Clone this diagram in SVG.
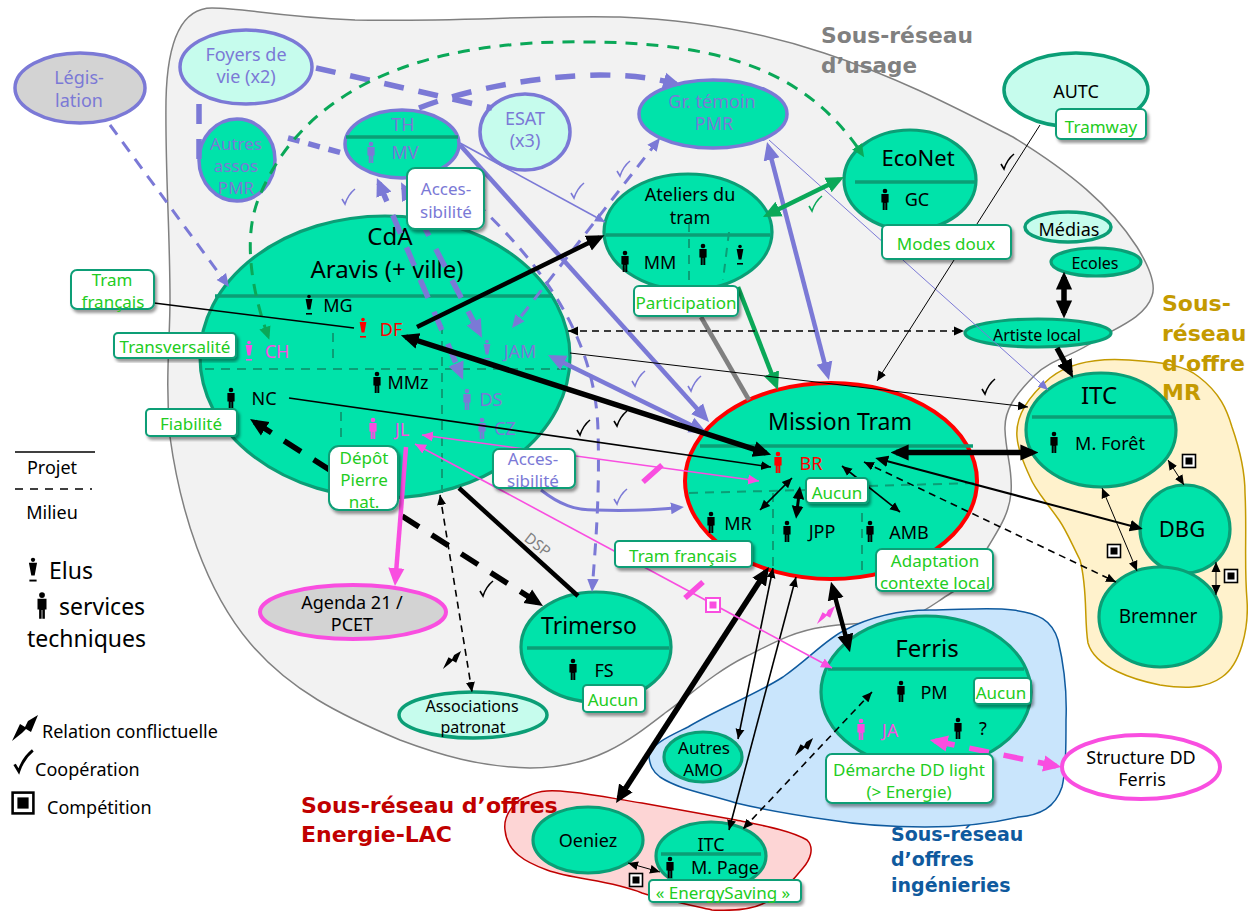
<svg xmlns="http://www.w3.org/2000/svg" width="1248" height="911" viewBox="0 0 1248 911">
<style>
text{font-family:"Noto Sans","Open Sans","DejaVu Sans",sans-serif;text-anchor:middle;dominant-baseline:central;fill:#000}
.l{text-anchor:start}
.f15{font-size:15px}.f16{font-size:16px}.f17{font-size:17px}.f18{font-size:18px}.f19{font-size:19px}.f22{font-size:22px}.f23{font-size:23px}.f24{font-size:24px}
.pu{fill:#7b79d6}.re{fill:#ff0000}.ma{fill:#f94ee0}.gt{fill:#22cc22}
.ti{font-family:"DejaVu Sans",sans-serif;font-weight:bold;font-size:22px;text-anchor:start}
.n{fill:#00e3aa;stroke:#0b9e76;stroke-width:3.2}
.nl{fill:#c6fced;stroke:#0b9e76;stroke-width:3.5}
.np{stroke:#7b79d6;stroke-width:3.5}
.div{stroke:#0b9e76;stroke-width:3.5;fill:none}
.sep{stroke:#0b9e76;stroke-width:2;stroke-dasharray:9 7;fill:none}
.box{fill:#fff;stroke:#0b9e76;stroke-width:2;filter:url(#sh)}
.c{fill:none}
.k{stroke:#000}.p{stroke:#7b79d6}.g{stroke:#0aa858}.m{stroke:#f94ee0}.y{stroke:#808080}
.w1{stroke-width:1}.w15{stroke-width:1.6}.w3{stroke-width:3}.w4{stroke-width:4.5}.w5{stroke-width:5.5}
.d1{stroke-dasharray:7 5}.d2{stroke-dasharray:12 9}.d3{stroke-dasharray:20 15}
.ck{fill:none;stroke-width:1.6}
</style>
<defs>
<filter id="sh" x="-10%" y="-10%" width="125%" height="130%"><feDropShadow dx="2" dy="3" stdDeviation="1.6" flood-color="#000" flood-opacity=".4"/></filter>
<marker id="ks" viewBox="0 0 10 10" refX="10" refY="5" markerWidth="10" markerHeight="10" markerUnits="userSpaceOnUse" orient="auto-start-reverse"><path d="M0,.5L10,5L0,9.5z" fill="#000"/></marker>
<marker id="km" viewBox="0 0 10 10" refX="7" refY="5" markerWidth="13" markerHeight="13" markerUnits="userSpaceOnUse" orient="auto-start-reverse"><path d="M0,.5L10,5L0,9.5z" fill="#000"/></marker>
<marker id="kl" viewBox="0 0 10 10" refX="7" refY="5" markerWidth="18" markerHeight="18" markerUnits="userSpaceOnUse" orient="auto-start-reverse"><path d="M0,.5L10,5L0,9.5z" fill="#000"/></marker>
<marker id="ps" viewBox="0 0 10 10" refX="10" refY="5" markerWidth="10" markerHeight="10" markerUnits="userSpaceOnUse" orient="auto-start-reverse"><path d="M0,.5L10,5L0,9.5z" fill="#7b79d6"/></marker>
<marker id="pm" viewBox="0 0 10 10" refX="7" refY="5" markerWidth="13" markerHeight="13" markerUnits="userSpaceOnUse" orient="auto-start-reverse"><path d="M0,.5L10,5L0,9.5z" fill="#7b79d6"/></marker>
<marker id="pl" viewBox="0 0 10 10" refX="7" refY="5" markerWidth="18" markerHeight="18" markerUnits="userSpaceOnUse" orient="auto-start-reverse"><path d="M0,.5L10,5L0,9.5z" fill="#7b79d6"/></marker>
<marker id="gm" viewBox="0 0 10 10" refX="7" refY="5" markerWidth="13" markerHeight="13" markerUnits="userSpaceOnUse" orient="auto-start-reverse"><path d="M0,.5L10,5L0,9.5z" fill="#0aa858"/></marker>
<marker id="gl" viewBox="0 0 10 10" refX="7" refY="5" markerWidth="18" markerHeight="18" markerUnits="userSpaceOnUse" orient="auto-start-reverse"><path d="M0,.5L10,5L0,9.5z" fill="#0aa858"/></marker>
<marker id="ms" viewBox="0 0 10 10" refX="10" refY="5" markerWidth="11" markerHeight="11" markerUnits="userSpaceOnUse" orient="auto-start-reverse"><path d="M0,.5L10,5L0,9.5z" fill="#f94ee0"/></marker>
<marker id="ml" viewBox="0 0 10 10" refX="7" refY="5" markerWidth="18" markerHeight="18" markerUnits="userSpaceOnUse" orient="auto-start-reverse"><path d="M0,.5L10,5L0,9.5z" fill="#f94ee0"/></marker>
<g id="man"><circle cx="0" cy="-8" r="2.3"/><path d="M-3.6,-5h7.2v8.5h-1.3v7.5h-2v-7h-.6v7h-2v-7.5h-1.3z"/></g>
<g id="elu"><circle cx="0" cy="-8.5" r="1.8"/><path d="M-3.4,-6h6.8l-2,10.5h-2.8z"/><rect x="-3" y="8" width="6" height="1.6"/></g>
<path id="ckm" d="M-6,1L-3,6C-1,0 2,-5 7,-9C2,-5 -1,0 -3,6"/>
<path id="bolt" d="M-13,13L-5,-4L0,-1L3,-7L13,-13L6,4L1,1L-3,5z"/>
<g id="cp"><rect x="-6.5" y="-6.5" width="13" height="13" fill="#fff" stroke="#000" stroke-width="1.6"/><rect x="-3.5" y="-3.5" width="7" height="7" fill="#000"/></g>
</defs>

<g id="zones">
<path id="zone-usage" d="M166,100C167,50 178,8 212,8C245,8 270,16 355,20C450,22 540,15 620,17C700,20 770,35 824,53C900,78 960,110 1013,137C1070,172 1110,205 1137,247C1150,268 1156,285 1152,296C1145,318 1115,328 1096,340C1075,355 1050,360 1035,375C1015,395 1004,410 1005,430C1006,455 1013,470 1011,493C1009,515 998,530 988,547C975,570 968,585 951,593C935,603 925,612 910,617C880,625 850,622 823,627C790,632 770,645 745,657C715,672 690,695 665,713C630,740 595,768 530,768C480,767 440,755 400,740C340,715 290,690 250,643C205,590 180,510 170,437C165,380 170,340 170,300C170,230 165,170 166,100Z" fill="#f2f2f2" stroke="#808080" stroke-width="1.5"/>
<path id="zone-mr" d="M1017,437C1015,415 1030,395 1050,378C1070,362 1100,358 1129,360C1160,362 1185,365 1199,377C1220,393 1227,410 1232,427C1240,450 1245,470 1245,493C1247,530 1244,565 1247,600C1249,630 1240,665 1222,677C1205,690 1180,688 1160,685C1135,680 1095,668 1088,643C1084,620 1088,590 1080,560C1070,540 1066,530 1059,520C1045,500 1035,490 1030,477C1023,462 1018,450 1017,437Z" fill="#fff2cc" stroke="#c49a00" stroke-width="1.5"/>
<path id="zone-ing" d="M649,757C648,745 672,735 688,727C720,708 755,695 783,677C810,658 825,640 845,630C870,617 900,610 930,610C960,610 990,607 1013,610C1038,613 1052,620 1058,640C1064,665 1067,695 1066,720C1066,745 1066,770 1062,787C1055,808 1040,815 1019,817C985,825 955,827 925,827C890,827 860,825 830,820C795,815 765,810 736,803C705,793 680,790 660,777C652,771 650,765 649,757Z" fill="#c9e5fc" stroke="#0f5a9e" stroke-width="1.5"/>
<path id="zone-lac" d="M505,830C503,815 515,800 528,796C540,790 552,790 570,792C600,795 620,800 642,803C680,810 710,815 736,820C760,825 790,830 807,840C815,848 810,860 803,868C795,878 785,890 770,900C755,910 730,911 712,910C690,905 665,900 642,893C610,880 575,880 547,870C525,862 507,852 505,830Z" fill="#fdd5d5" stroke="#c00000" stroke-width="1.5"/>
</g>

<g id="titles">
<text class="ti" x="821" y="35" style="fill:#808080" textLength="152" lengthAdjust="spacingAndGlyphs">Sous-réseau</text>
<text class="ti" x="821" y="65" style="fill:#808080" textLength="96" lengthAdjust="spacingAndGlyphs">d’usage</text>
<text class="ti" x="1162" y="303" style="fill:#c49a00">Sous-</text>
<text class="ti" x="1162" y="333" style="fill:#c49a00">réseau</text>
<text class="ti" x="1162" y="363" style="fill:#c49a00">d’offre</text>
<text class="ti" x="1162" y="392" style="fill:#c49a00">MR</text>
<text class="ti" x="301" y="805" style="fill:#c00000">Sous-réseau d’offres</text>
<text class="ti" x="301" y="834" style="fill:#c00000">Energie-LAC</text>
<text class="ti" x="891" y="834" style="fill:#0f5a9e;font-size:19px">Sous-réseau</text>
<text class="ti" x="891" y="859" style="fill:#0f5a9e;font-size:19px">d’offres</text>
<text class="ti" x="891" y="885" style="fill:#0f5a9e;font-size:19px">ingénieries</text>
</g>

<g id="node-legislation"><ellipse cx="80" cy="88" rx="65" ry="35" class="np" fill="#d3d3d3"/><text class="f18 pu" x="79" y="77">Légis-</text><text class="f18 pu" x="79" y="100">lation</text></g>
<g id="node-foyers"><ellipse cx="246" cy="67" rx="66" ry="37" class="np" fill="#c6fced"/><text class="f18 pu" x="246" y="54">Foyers de</text><text class="f18 pu" x="246" y="76">vie (x2)</text></g>
<g id="node-autres-assos"><ellipse cx="237" cy="160" rx="38" ry="41" class="np" fill="#00e3aa"/><text class="f17 pu" x="236" y="143">Autres</text><text class="f17 pu" x="236" y="165">assos</text><text class="f17 pu" x="236" y="187">PMR</text></g>
<g id="node-th"><ellipse cx="402" cy="144" rx="57" ry="34" class="np" fill="#00e3aa"/><path class="div" d="M346,137H458"/><text class="f18 pu" x="403" y="124">TH</text><text class="f18 pu" x="405" y="152">MV</text><use href="#man" x="371" y="152" fill="#7b79d6"/></g>
<g id="node-esat"><ellipse cx="525" cy="132" rx="45" ry="38" class="np" fill="#c6fced"/><text class="f18 pu" x="525" y="118">ESAT</text><text class="f18 pu" x="525" y="140">(x3)</text></g>
<g id="node-temoin"><ellipse cx="713" cy="114" rx="74" ry="34" class="np" fill="#00e3aa"/><text class="f18 pu" x="712" y="101">Gr. témoin</text><text class="f18 pu" x="714" y="123">PMR</text></g>

<g id="node-cda"><ellipse cx="385" cy="357" rx="185" ry="141" class="n"/><path class="div" d="M215,296H553"/><path class="sep" d="M205,369H567M333,333V360M442,325V493M341,412V440"/>
<text class="f24" x="390" y="235">CdA</text><text class="f24" x="387" y="268">Aravis (+ ville)</text>
<use href="#elu" x="309" y="305" fill="#000"/><text class="f18" x="338" y="305">MG</text>
<use href="#elu" x="363" y="328" fill="#f00"/><text class="f18 re" x="391" y="329">DF</text>
<use href="#elu" x="249" y="351" fill="#f94ee0"/><text class="f18 ma" x="277" y="351">CH</text>
<use href="#elu" x="487" y="350" fill="#7b79d6"/><text class="f18 pu" x="520" y="351">JAM</text>
<use href="#man" x="377" y="382" fill="#000"/><text class="f18" x="408" y="382">MMz</text>
<use href="#man" x="231" y="398" fill="#000"/><text class="f18" x="264" y="398">NC</text>
<use href="#man" x="467" y="399" fill="#7b79d6"/><text class="f18 pu" x="491" y="399">DS</text>
<use href="#man" x="482" y="428" fill="#7b79d6"/><text class="f18 pu" x="505" y="428">CZ</text>
<use href="#man" x="373" y="428" fill="#f94ee0"/><text class="f18 ma" x="402" y="429">JL</text></g>

<g id="node-ateliers"><ellipse cx="688" cy="232" rx="84" ry="58" class="n"/><path class="div" d="M606,235H770"/><path class="sep" d="M689,223V280M729,232L723,280"/><text class="f18" x="690" y="194">Ateliers du</text><text class="f18" x="690" y="217">tram</text><use href="#man" x="625" y="261" fill="#000"/><text class="f18" x="660" y="262">MM</text><use href="#man" x="703" y="254" fill="#000"/><use href="#elu" x="740" y="255" fill="#000"/></g>
<g id="node-econet"><ellipse cx="910" cy="180" rx="66" ry="50" class="n"/><path class="div" d="M855,182H975"/><text class="f22" x="918" y="157">EcoNet</text><use href="#man" x="885" y="199" fill="#000"/><text class="f18" x="917" y="199">GC</text></g>
<g id="node-autc"><ellipse cx="1076" cy="90" rx="72" ry="37" class="nl"/><text class="f18" x="1076" y="91">AUTC</text></g>
<g id="node-medias"><ellipse cx="1068" cy="227" rx="43" ry="15" class="nl"/><text class="f18" x="1069" y="229">Médias</text></g>
<g id="node-ecoles"><ellipse cx="1096" cy="262" rx="45" ry="14" class="n"/><text class="f16" x="1095" y="263">Ecoles</text></g>
<g id="node-artiste"><ellipse cx="1038" cy="333" rx="73" ry="14" class="n"/><text class="f16" x="1037" y="335">Artiste local</text></g>
<g id="node-mission"><ellipse cx="831" cy="481" rx="146" ry="98" fill="#00e3aa" stroke="#f00" stroke-width="4"/><path class="div" d="M700,446H973"/><path class="sep" d="M689,493L806,490M869,486L974,483M773,493V567M862,513V577"/>
<text class="f23" x="840" y="421">Mission Tram</text>
<use href="#man" x="778" y="462" fill="#f00"/><text class="f18 re" x="811" y="463">BR</text>
<use href="#man" x="711" y="522" fill="#000"/><text class="f18" x="738" y="523">MR</text>
<use href="#man" x="787" y="531" fill="#000"/><text class="f18" x="822" y="531">JPP</text>
<use href="#man" x="870" y="531" fill="#000"/><text class="f18" x="909" y="532">AMB</text></g>
<g id="node-itc"><ellipse cx="1101" cy="430" rx="75" ry="57" class="n"/><path class="div" d="M1032,417H1173"/><text class="f24" x="1099" y="394">ITC</text><use href="#man" x="1054" y="442" fill="#000"/><text class="f18" x="1110" y="443">M. Forêt</text></g>
<g id="node-dbg"><ellipse cx="1185" cy="529" rx="45" ry="44" class="n"/><text class="f22" x="1182" y="528">DBG</text></g>
<g id="node-bremner"><ellipse cx="1160" cy="617" rx="61" ry="50" class="n"/><text class="f19" x="1158" y="616">Bremner</text></g>
<g id="node-ferris"><ellipse cx="926" cy="692" rx="105" ry="76" class="n"/><path class="div" d="M828,669H1024"/><text class="f24" x="927" y="647">Ferris</text><use href="#man" x="901" y="691" fill="#000"/><text class="f18" x="934" y="692">PM</text><use href="#man" x="861" y="729" fill="#f94ee0"/><text class="f18 ma" x="890" y="730">JA</text><use href="#man" x="958" y="728" fill="#000"/><text class="f18" x="983" y="728">?</text></g>
<g id="node-trimerso"><ellipse cx="596" cy="647" rx="75" ry="55" class="n"/><path class="div" d="M527,648H669"/><text class="f23" x="589" y="625">Trimerso</text><use href="#man" x="573" y="669" fill="#000"/><text class="f18" x="604" y="670">FS</text></g>
<g id="node-agenda"><ellipse cx="353" cy="612" rx="93" ry="27" fill="#d3d3d3" stroke="#f94ee0" stroke-width="4"/><text class="f18" x="352" y="602">Agenda 21 /</text><text class="f18" x="352" y="624">PCET</text></g>
<g id="node-associations"><ellipse cx="473" cy="715" rx="74" ry="23" class="nl"/><text class="f16" x="472" y="706">Associations</text><text class="f16" x="473" y="727">patronat</text></g>
<g id="node-amo"><ellipse cx="703" cy="757" rx="39" ry="25" class="n"/><text class="f17" x="704" y="747">Autres</text><text class="f17" x="703" y="769">AMO</text></g>
<g id="node-oeniez"><ellipse cx="588" cy="840" rx="55" ry="33" class="n"/><text class="f18" x="588" y="840">Oeniez</text></g>
<g id="node-itc-page"><ellipse cx="711" cy="856" rx="55" ry="34" class="n"/><path class="div" d="M661,854H761"/><text class="f18" x="711" y="844">ITC</text><use href="#man" x="670" y="867" fill="#000"/><text class="f18" x="725" y="867">M. Page</text></g>
<g id="node-structure"><ellipse cx="1141" cy="767" rx="79" ry="32" fill="#fff" stroke="#f94ee0" stroke-width="4"/><text class="f18" x="1141" y="757">Structure DD</text><text class="f18" x="1142" y="779">Ferris</text></g>

<g id="connectors">
<path class="c p d2" stroke-width="3" d="M110,125L226.7,283.9" marker-end="url(#pm)"/>
<path class="c p w5 d3" d="M316,68L492,108"/>
<path class="c p w5 d3" d="M199,104V160"/>
<path class="c p w5 d2" d="M288,138L342,153"/>
<path class="c p w5 d3" d="M419,108C470,88 540,76 600,75C630,75 655,78 676,84" marker-end="url(#pl)"/>
<path class="c p w4" d="M460,145L705.4,418" marker-end="url(#pl)"/>
<path class="c p w4" d="M552.8,357.4L702,430.6" marker-start="url(#pl)" marker-end="url(#pl)"/>
<path class="c p w15" d="M460,143L605,222" marker-end="url(#ps)"/>
<path class="c p w3 d2" d="M657.6,141.1L514.4,324.9" marker-start="url(#pm)" marker-end="url(#pm)"/>
<path class="c p w3 d2" d="M445,175C520,240 595,320 598,430C600,500 595,550 592.3,588" marker-end="url(#pm)"/>
<path class="c p w5 d3" d="M379,183L461,375" marker-start="url(#pl)" marker-end="url(#pl)"/>
<path class="c p w5 d3" d="M403.5,187L479.5,333" marker-start="url(#pl)" marker-end="url(#pl)"/>
<path class="c p w4" d="M768.4,147.2L827.6,374.8" marker-start="url(#pl)" marker-end="url(#pl)"/>
<path class="c p w1" d="M769,140L1048,390" marker-end="url(#ps)"/>
<path class="c p w3" d="M541,490C560,505 575,510 595,510C625,511 655,510 680,507.5" marker-end="url(#pm)"/>

<path class="c g w3 d2" d="M268,336C255,300 240,240 260,195C300,100 400,45 560,42C700,40 800,60 862,154" marker-start="url(#gm)" marker-end="url(#gm)"/>
<path class="c g w4" d="M767.8,214.6L839.2,179.4" marker-start="url(#gl)" marker-end="url(#gl)"/>
<path class="c g w4" d="M738,287L776,385" marker-end="url(#gl)"/>
<path class="c y w4" d="M701,317L749,400"/>

<path class="c k w4" d="M417,327L599.6,237.6" marker-end="url(#kl)"/>
<path class="c k w5" d="M406,337L766,453" marker-start="url(#kl)" marker-end="url(#kl)"/>
<path class="c k w15" d="M154,303L354,328"/>
<path class="c k w15" d="M289,398L771,467" marker-end="url(#ks)"/>
<path class="c k w1" d="M570,353L1028,407" marker-end="url(#ks)"/>
<path class="c k w15 d1" d="M568,331H964" marker-start="url(#ks)" marker-end="url(#ks)"/>
<path class="c k w1" d="M1040,125L877,381" marker-end="url(#ks)"/>
<path class="c k w5" d="M1064,277V313" marker-start="url(#kl)" marker-end="url(#kl)"/>
<path class="c k w5" d="M1057,348L1070.5,373" marker-end="url(#kl)"/>
<path class="c k w5" d="M896,452.5H1033" marker-start="url(#kl)" marker-end="url(#kl)"/>
<path class="c k" stroke-width="2" d="M879,459L1139,528" marker-start="url(#km)" marker-end="url(#km)"/>
<path class="c k w15 d1" d="M864,462L1116,582" marker-start="url(#ks)" marker-end="url(#ks)"/>
<path class="c k w1" d="M1168,460L1184,485" marker-start="url(#ks)" marker-end="url(#ks)"/>
<path class="c k w1" d="M1102,488L1137,571" marker-start="url(#ks)" marker-end="url(#ks)"/>
<path class="c k w1" d="M1216,562V595" marker-start="url(#ks)" marker-end="url(#ks)"/>
<path class="c k w15" d="M792,478L760,510" marker-start="url(#ks)" marker-end="url(#ks)"/>
<path class="c k w3" d="M799.5,490L796.5,515" marker-start="url(#km)" marker-end="url(#km)"/>
<path class="c k w15" d="M842,466L900,512" marker-start="url(#ks)" marker-end="url(#ks)"/>
<path class="c k w4" d="M459,488L578,596"/>
<path class="c k w5 d3" d="M254.6,422L538.4,603" marker-start="url(#kl)" marker-end="url(#kl)"/>
<path class="c k w15 d1" d="M440,495L472,692" marker-start="url(#ks)" marker-end="url(#ks)"/>
<path class="c k w5" d="M766,571.5L619,798.5" marker-start="url(#kl)" marker-end="url(#kl)"/>
<path class="c k w15" d="M773,568L738,739" marker-start="url(#ks)" marker-end="url(#ks)"/>
<path class="c k w15" d="M796,577L729,830" marker-start="url(#ks)" marker-end="url(#ks)"/>
<path class="c k w4" d="M832.4,587L848.6,647" marker-start="url(#kl)" marker-end="url(#kl)"/>
<path class="c k w15 d1" d="M872,692L743,829" marker-start="url(#ks)" marker-end="url(#ks)"/>
<path class="c k w1" d="M628,863L660,872" marker-start="url(#ks)" marker-end="url(#ks)"/>

<path class="c m w15" d="M422,435L759,481" marker-start="url(#ms)" marker-end="url(#ms)"/>
<path class="c m w15" d="M415,444L832,668" marker-start="url(#ms)" marker-end="url(#ms)"/>
<path class="c m w4" d="M406,447L395.4,580.6" marker-end="url(#ml)"/>
<path class="c m w5 d3" d="M935,741L1056,766" marker-start="url(#ml)" marker-end="url(#ml)"/>
<path class="c m w5" d="M643,482L662,465M685,598L703,582"/>
<path d="M706,598h14v14h-14z" fill="#fff" stroke="#f94ee0" stroke-width="2"/><path d="M709.5,601.5h7v7h-7z" fill="#f94ee0"/>
</g>

<g id="marks">
<g class="ck k"><use href="#ckm" x="1007" y="163"/><use href="#ckm" x="988" y="388"/><use href="#ckm" x="583" y="429"/><use href="#ckm" x="620" y="420"/><use href="#ckm" x="486" y="590"/></g>
<g class="ck p"><use href="#ckm" x="348" y="198"/><use href="#ckm" x="577" y="192"/><use href="#ckm" x="623" y="170"/><use href="#ckm" x="638" y="380"/><use href="#ckm" x="694" y="385"/><use href="#ckm" x="620" y="498"/></g>
<g class="ck g"><use href="#ckm" x="815" y="205"/></g>
<use href="#bolt" transform="translate(452 660) scale(.7)" fill="#000"/>
<use href="#bolt" transform="translate(804 747) scale(.7)" fill="#000"/>
<use href="#bolt" transform="translate(826 615) scale(.7)" fill="#f94ee0"/>
<use href="#cp" x="1189" y="461"/><use href="#cp" x="1114" y="551"/><use href="#cp" x="1231" y="576"/><use href="#cp" x="636" y="880"/>
</g>

<g id="label-tram1"><rect class="box" x="71" y="270" width="83" height="39" rx="6"/><text class="f17 gt" x="112" y="279">Tram</text><text class="f17 gt" x="113" y="301">français</text></g>
<g id="label-transv"><rect class="box" x="114" y="333" width="122" height="25" rx="4"/><text class="f17 gt" x="175" y="346">Transversalité</text></g>
<g id="label-fiab"><rect class="box" x="146" y="409" width="91" height="27" rx="4"/><text class="f17 gt" x="191" y="423">Fiabilité</text></g>
<g id="label-acces1"><rect class="box" x="407" y="168" width="77" height="61" rx="8"/><text class="f17 pu" x="446" y="188">Acces-</text><text class="f17 pu" x="446" y="211">sibilité</text></g>
<g id="label-depot"><rect class="box" x="329" y="446" width="69" height="64" rx="10"/><text class="f17 gt" x="364" y="457">Dépôt</text><text class="f17 gt" x="364" y="479">Pierre</text><text class="f17 gt" x="364" y="501">nat.</text></g>
<g id="label-acces2"><rect class="box" x="493" y="449" width="82" height="39" rx="6"/><text class="f17 pu" x="533" y="458">Acces-</text><text class="f17 pu" x="533" y="480">sibilité</text></g>
<g id="label-particip"><rect class="box" x="634" y="286" width="104" height="30" rx="5"/><text class="f17 gt" x="686" y="302">Participation</text></g>
<g id="label-modes"><rect class="box" x="882" y="225" width="129" height="34" rx="5"/><text class="f17 gt" x="946" y="243">Modes doux</text></g>
<g id="label-tramway"><rect class="box" x="1056" y="109" width="90" height="30" rx="5"/><text class="f17 gt" x="1101" y="126">Tramway</text></g>
<g id="label-aucun-mt"><rect class="box" x="806" y="478" width="62" height="25" rx="4"/><text class="f17 gt" x="837" y="492">Aucun</text></g>
<g id="label-tram2"><rect class="box" x="615" y="541" width="137" height="26" rx="4"/><text class="f17 gt" x="683" y="555">Tram français</text></g>
<g id="label-adapt"><rect class="box" x="876" y="549" width="117" height="42" rx="6"/><text class="f17 gt" x="935" y="560">Adaptation</text><text class="f17 gt" x="935" y="582">contexte local</text></g>
<g id="label-aucun-tr"><rect class="box" x="583" y="685" width="62" height="27" rx="4"/><text class="f17 gt" x="613" y="699">Aucun</text></g>
<g id="label-aucun-fe"><rect class="box" x="974" y="678" width="57" height="26" rx="4"/><text class="f17 gt" x="1001" y="692">Aucun</text></g>
<g id="label-demarche"><rect class="box" x="826" y="754" width="167" height="49" rx="6"/><text class="f17 gt" x="909" y="769">Démarche DD light</text><text class="f17 gt" x="909" y="791">(&gt; Energie)</text></g>
<g id="label-energy"><rect class="box" x="649" y="880" width="152" height="22" rx="4"/><text class="f17 gt" x="723" y="892">« EnergySaving »</text></g>
<text class="f15" style="fill:#808080" transform="translate(538 544) rotate(38)">DSP</text>

<g id="legend">
<path d="M15,452H95" stroke="#000" stroke-width="1.6"/><text class="f18" x="52" y="467">Projet</text>
<path d="M15,489H92" stroke="#000" stroke-width="1.6" stroke-dasharray="8 7"/><text class="f18" x="52" y="512">Milieu</text>
<use href="#elu" transform="translate(33 570) scale(1.2)" fill="#000"/><text class="f23 l" x="49" y="570">Elus</text>
<use href="#man" transform="translate(42 605) scale(1.25)" fill="#000"/><text class="f23 l" x="59" y="606">services</text>
<text class="f23 l" x="27" y="638">techniques</text>
<use href="#bolt" transform="translate(25 728)" fill="#000"/><text class="f18 l" x="42" y="731">Relation conflictuelle</text>
<use href="#ckm" transform="translate(23 763) scale(1.4)" fill="none" stroke="#000" stroke-width="2"/><text class="f18 l" x="35" y="769">Coopération</text>
<use href="#cp" transform="translate(23 803) scale(1.6)"/><text class="f18 l" x="47" y="807">Compétition</text>
</g>
</svg>
